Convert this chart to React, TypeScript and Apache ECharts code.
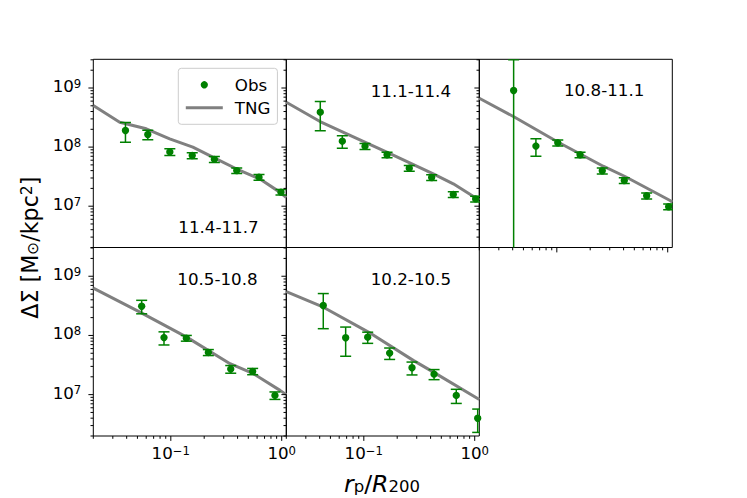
import React, { useEffect, useRef } from 'react';
import * as echarts from 'echarts';

const FONT = 'DejaVu Sans';
const GREEN = '#008000';
const GRAY = '#808080';

// axis ranges
const X_MIN = 0.02;
const X_MAX = 1.1;
const Y_MIN = 2e6;
const Y_MAX = 3.06e9;

// tick positions
const yMajorTicks = [1e7, 1e8, 1e9];
const yMinorTicks = [2e6, 3e6, 4e6, 5e6, 6e6, 7e6, 8e6, 9e6, 2e7, 3e7, 4e7, 5e7, 6e7, 7e7, 8e7, 9e7, 2e8, 3e8, 4e8, 5e8, 6e8, 7e8, 8e8, 9e8, 2e9, 3e9];
const xMajorTicks = [0.1, 1];
const xMinorTicks = [0.02, 0.03, 0.04, 0.05, 0.06, 0.07, 0.08, 0.09, 0.2, 0.3, 0.4, 0.5, 0.6, 0.7, 0.8, 0.9];

const panelLabels = ['11.4-11.7', '11.1-11.4', '10.8-11.1', '10.5-10.8', '10.2-10.5'];

// Observations
const obsX1 = [0.039, 0.062, 0.098, 0.156, 0.247, 0.393, 0.624, 0.985];
const obsY1 = [1.91e8, 1.63e8, 8.3e7, 7.2e7, 6.2e7, 4.0e7, 3.1e7, 1.73e7];
const err1 = [7.0e7, 3.0e7, 1.1e7, 8.6e6, 7e6, 4.4e6, 3.4e6, 1.9e6];

const obsX2 = [0.0405, 0.064, 0.1025, 0.162, 0.257, 0.409, 0.641, 1.02];
const obsY2 = [3.9e8, 1.26e8, 1.03e8, 7.4e7, 4.4e7, 3.06e7, 1.58e7, 1.33e7];
const err2 = [2.0e8, 3.0e7, 1.2e7, 8e6, 5e6, 3.5e6, 1.8e6, 1.5e6];

const obsX3 = [0.0408, 0.0648, 0.102, 0.162, 0.257, 0.406, 0.646, 1.02];
const obsY3 = [9.1e8, 1.04e8, 1.18e8, 7.4e7, 3.97e7, 2.72e7, 1.5e7, 9.8e6];
const err3 = [2.1e9, 3.4e7, 1.4e7, 8e6, 4.5e6, 3e6, 1.7e6, 1.1e6];

const obsX4 = [0.0546, 0.0868, 0.138, 0.218, 0.347, 0.547, 0.869];
const obsY4 = [3.12e8, 9.2e7, 9.0e7, 5.17e7, 2.7e7, 2.47e7, 9.7e6];
const err4 = [8e7, 2.3e7, 1e7, 6e6, 4e6, 3e6, 1.4e6];

const obsX5 = [0.0431, 0.0686, 0.1084, 0.171, 0.272, 0.43, 0.682, 1.064];
const obsY5 = [3.2e8, 9.15e7, 9.35e7, 5.03e7, 2.85e7, 2.22e7, 9.7e6, 4.0e6];
const err5 = [1.9e8, 4.7e7, 2.0e7, 1.1e7, 7e6, 4.3e6, 2.6e6, 1.7e6];

// TNG curves
const tngX1 = [0.02, 0.0346, 0.0601, 0.0977, 0.158, 0.257, 0.389, 0.632, 0.96, 1.1];
const tngY1 = [5.06e8, 2.64e8, 2.04e8, 1.38e8, 9.96e7, 6.34e7, 4.3e7, 2.9e7, 1.73e7, 1.4e7];

const tngX2 = [0.02, 0.0403, 0.0702, 0.161, 0.423, 0.641, 1.0, 1.1];
const tngY2 = [5.75e8, 2.71e8, 1.68e8, 8.2e7, 3.53e7, 2.39e7, 1.42e7, 1.27e7];

const tngX3 = [0.02, 0.0406, 0.103, 0.262, 0.412, 1.05, 1.1];
const tngY3 = [6.71e8, 3.29e8, 1.21e8, 4.75e7, 3.18e7, 1.25e7, 1.18e7];

const tngX4 = [0.02, 0.0527, 0.139, 0.342, 0.555, 0.966, 1.1];
const tngY4 = [6.28e8, 2.47e8, 9.36e7, 3.33e7, 2.26e7, 1.18e7, 1.0e7];

const tngX5 = [0.02, 0.0432, 0.11, 0.279, 0.424, 1.1];
const tngY5 = [5.52e8, 3.0e8, 1.14e8, 3.79e7, 2.4e7, 8.3e6];

const obsXs = [obsX1, obsX2, obsX3, obsX4, obsX5];
const obsYs = [obsY1, obsY2, obsY3, obsY4, obsY5];
const errs = [err1, err2, err3, err4, err5];
const tngXs = [tngX1, tngX2, tngX3, tngX4, tngX5];
const tngYs = [tngY1, tngY2, tngY3, tngY4, tngY5];

// layout of the 5 panels (pixels)
const layout = [
  { left: 93.3, top: 59.3, width: 193, height: 188.2, bottomTicks: false, yLabels: true, xLabels: false, ann: [178.3, 226.5] },
  { left: 286.3, top: 59.3, width: 193, height: 188.2, bottomTicks: false, yLabels: false, xLabels: false, ann: [370.7, 90.5] },
  { left: 479.3, top: 59.3, width: 193, height: 188.2, bottomTicks: true, yLabels: false, xLabels: false, ann: [564, 90.3] },
  { left: 93.3, top: 247.5, width: 193, height: 188.5, bottomTicks: true, yLabels: true, xLabels: true, ann: [177.3, 278.7] },
  { left: 286.3, top: 247.5, width: 193, height: 188.5, bottomTicks: true, yLabels: false, xLabels: true, ann: [370.7, 278.5] },
];

const tickFormatter = (v: number) => {
  const l = Math.log10(v);
  const e = Math.round(l);
  if (Math.abs(l - e) > 1e-6) return '';
  const es = e < 0 ? '\u2212' + String(-e) : String(e);
  return '{b|10}{e|' + es + '}';
};

const labelRich = {
  b: { fontFamily: FONT, fontSize: 16.7, lineHeight: 17, padding: [4, 0, 0, 0], verticalAlign: 'bottom', color: '#000' },
  e: { fontFamily: FONT, fontSize: 11.7, lineHeight: 12, verticalAlign: 'top', color: '#000' },
};

export default function App() {
  const ref = useRef<HTMLDivElement>(null);

  useEffect(() => {
    if (!ref.current) return;
    const chart = echarts.init(ref.current, undefined, { renderer: 'svg' });

    const grids = layout.map((l) => ({
      left: l.left,
      top: l.top,
      width: l.width,
      height: l.height,
      show: true,
      borderColor: '#000',
      borderWidth: 1,
      backgroundColor: 'transparent',
      containLabel: false,
      outerBoundsMode: 'none',
    }));

    const xAxes = layout.map((l, i) => ({
      type: 'log',
      logBase: 10,
      gridIndex: i,
      min: X_MIN,
      max: X_MAX,
      axisLine: { show: false },
      axisTick: { show: false },
      splitLine: { show: false },
      axisLabel: {
        show: l.xLabels,
        margin: 8.5,
        fontFamily: FONT,
        fontSize: 16.7,
        color: '#000',
        formatter: tickFormatter,
        rich: labelRich,
      },
    }));

    const yAxes = layout.map((l, i) => ({
      type: 'log',
      logBase: 10,
      gridIndex: i,
      min: Y_MIN,
      max: Y_MAX,
      axisLine: { show: false },
      axisTick: { show: false },
      splitLine: { show: false },
      axisLabel: {
        show: l.yLabels,
        margin: 12,
        padding: [0, 0, 4, 0],
        fontFamily: FONT,
        fontSize: 16.7,
        color: '#000',
        formatter: tickFormatter,
        rich: labelRich,
      },
    }));

    const series: any[] = [];
    layout.forEach((l, i) => {
      series.push({
        type: 'line',
        name: 'TNG',
        xAxisIndex: i,
        yAxisIndex: i,
        data: tngXs[i].map((x, k) => [x, tngYs[i][k]]),
        symbol: 'none',
        showSymbol: false,
        lineStyle: { color: GRAY, width: 3 },
        itemStyle: { color: GRAY },
        clip: true,
        z: 2,
        silent: true,
      });
      series.push({
        type: 'custom',
        name: 'err' + i,
        xAxisIndex: i,
        yAxisIndex: i,
        clip: true,
        z: 3,
        silent: true,
        data: obsXs[i].map((x, k) => [x, obsYs[i][k], errs[i][k]]),
        encode: { x: 0, y: 1 },
        renderItem: (params: any, api: any) => {
          const x = api.value(0);
          const y = api.value(1);
          const e = api.value(2);
          const hi = api.coord([x, y + e]);
          const lowVal = y - e > 0 ? y - e : Y_MIN / 100;
          const lo = api.coord([x, lowVal]);
          const cap = 5.5;
          const st = { stroke: GREEN, lineWidth: 1.5, fill: 'none' };
          return {
            type: 'group',
            children: [
              { type: 'line', shape: { x1: hi[0], y1: hi[1], x2: lo[0], y2: lo[1] }, style: st },
              { type: 'line', shape: { x1: hi[0] - cap, y1: hi[1], x2: hi[0] + cap, y2: hi[1] }, style: st },
              { type: 'line', shape: { x1: lo[0] - cap, y1: lo[1], x2: lo[0] + cap, y2: lo[1] }, style: st },
            ],
          };
        },
      });
      series.push({
        type: 'scatter',
        name: 'Obs',
        xAxisIndex: i,
        yAxisIndex: i,
        data: obsXs[i].map((x, k) => [x, obsYs[i][k]]),
        symbol: 'circle',
        symbolSize: 7.4,
        itemStyle: { color: GREEN, opacity: 1 },
        z: 4,
        silent: true,
      });
      series.push({
        type: 'custom',
        name: 'ticks' + i,
        xAxisIndex: i,
        yAxisIndex: i,
        clip: false,
        z: 5,
        silent: true,
        data: [[1, 1e8]],
        encode: { x: 0, y: 1 },
        renderItem: (params: any, api: any) => {
          const cs = params.coordSys;
          const children: any[] = [];
          const st = { stroke: '#000', lineWidth: 1 };
          const addY = (v: number, len: number) => {
            const py = api.coord([X_MIN, v])[1];
            if (py < cs.y - 0.6 || py > cs.y + cs.height + 0.6) return;
            children.push({ type: 'line', shape: { x1: cs.x - len, y1: py, x2: cs.x, y2: py }, style: st });
          };
          const addX = (v: number, len: number) => {
            const px = api.coord([v, Y_MIN])[0];
            if (px < cs.x - 0.6 || px > cs.x + cs.width + 0.6) return;
            const yb = cs.y + cs.height;
            children.push({ type: 'line', shape: { x1: px, y1: yb, x2: px, y2: yb + len }, style: st });
          };
          yMajorTicks.forEach((v) => addY(v, 4.9));
          yMinorTicks.forEach((v) => addY(v, 2.8));
          if (l.bottomTicks) {
            xMajorTicks.forEach((v) => addX(v, 4.9));
            xMinorTicks.forEach((v) => addX(v, 2.8));
          }
          return { type: 'group', children };
        },
      });
    });

    const graphics: any[] = layout.map((l, i) => ({
      type: 'text',
      x: l.ann[0],
      y: l.ann[1],
      z: 10,
      style: {
        text: panelLabels[i],
        fontFamily: FONT,
        fontSize: 16.7,
        fill: '#000',
        align: 'left',
        verticalAlign: 'middle',
      },
    }));

    graphics.push({
      type: 'text',
      x: 382,
      y: 483.5,
      z: 10,
      style: {
        text: '{i|r}{s|p}{n|/}{i|R}{s|200}',
        align: 'center',
        verticalAlign: 'middle',
        rich: {
          i: { fontFamily: FONT, fontStyle: 'italic', fontSize: 23.5, lineHeight: 23, padding: [0, 0, 4, 0], verticalAlign: 'top', fill: '#000', color: '#000' },
          n: { fontFamily: FONT, fontSize: 23.5, lineHeight: 23, padding: [0, 0, 4, 0], verticalAlign: 'top', fill: '#000', color: '#000' },
          s: { fontFamily: FONT, fontSize: 16.5, lineHeight: 16, verticalAlign: 'bottom', fill: '#000', color: '#000' },
        },
      },
    });

    graphics.push({
      type: 'text',
      x: 30,
      y: 247.7,
      rotation: Math.PI / 2,
      z: 10,
      style: {
        text: '{n|\u0394\u03a3 [M}{s|\u2299}{n|/kpc}{p|2}{n|]}',
        align: 'center',
        verticalAlign: 'middle',
        rich: {
          n: { fontFamily: FONT, fontSize: 22.2, lineHeight: 22, padding: [4, 0, 4, 0], verticalAlign: 'middle', fill: '#000', color: '#000' },
          s: { fontFamily: FONT, fontSize: 15.5, lineHeight: 15, verticalAlign: 'bottom', fill: '#000', color: '#000' },
          p: { fontFamily: FONT, fontSize: 15.5, lineHeight: 15, verticalAlign: 'top', fill: '#000', color: '#000' },
        },
      },
    });

    chart.setOption({
      animation: false,
      backgroundColor: '#ffffff',
      textStyle: { fontFamily: FONT },
      grid: grids,
      xAxis: xAxes,
      yAxis: yAxes,
      legend: {
        data: [
          { name: 'Obs', icon: 'circle' },
          { name: 'TNG', itemStyle: { opacity: 0 }, lineStyle: { width: 3, color: GRAY, opacity: 1 } },
        ],
        orient: 'vertical',
        left: 178.3,
        top: 68.3,
        itemWidth: 37,
        itemHeight: 7.3,
        itemGap: 6,
        padding: [8, 7, 8, 6],
        backgroundColor: 'rgba(255,255,255,0.8)',
        borderColor: '#cccccc',
        borderWidth: 1,
        borderRadius: 3,
        selectedMode: false,
        z: 10,
        lineStyle: { width: 3 },
        textStyle: { fontFamily: FONT, fontSize: 16.7, color: '#000', padding: [0, 0, 0, 7] },
      },
      series,
      graphic: graphics,
    } as any);

    return () => {
      chart.dispose();
    };
  }, []);

  return (
    <div
      ref={ref}
      style={{ position: 'absolute', left: 0, top: 0, width: 747, height: 498, background: '#fff' }}
    />
  );
}
